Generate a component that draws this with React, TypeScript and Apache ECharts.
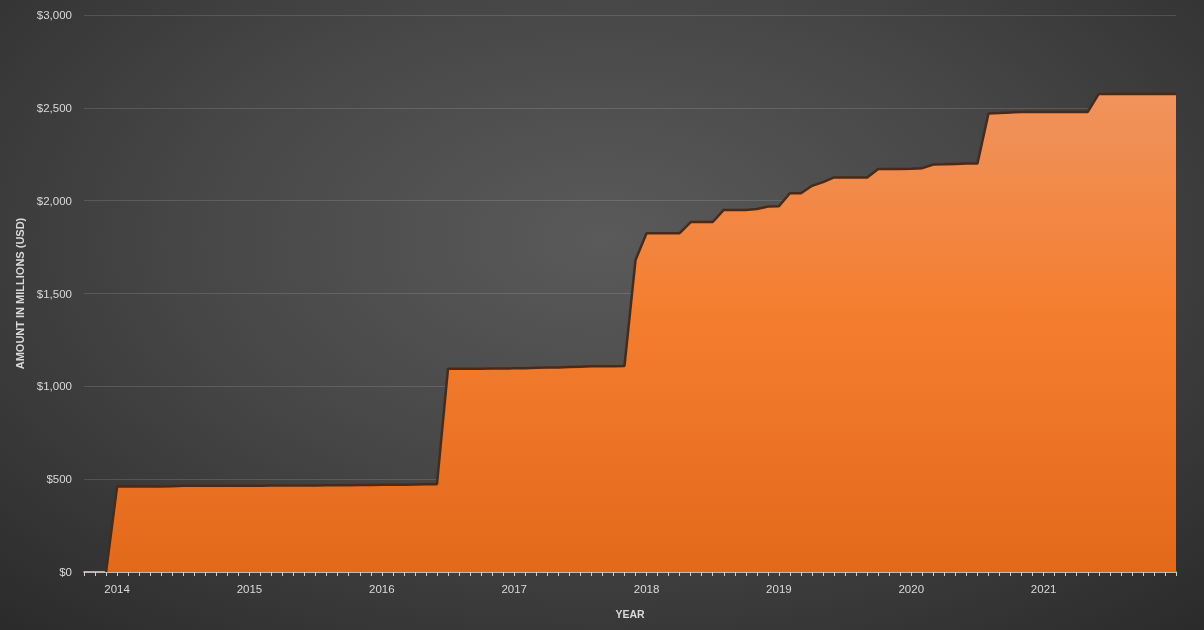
import React, { useEffect, useRef } from "react";
import * as echarts from "echarts";

// Monthly categories from Oct 2013 to Jan 2022
const startYear = 2013;
const startMonth = 10;
const monthCount = 100;
const categories: string[] = [];
for (let i = 0; i < monthCount; i++) {
  const m0 = startMonth - 1 + i;
  const y = startYear + Math.floor(m0 / 12);
  const m = (m0 % 12) + 1;
  categories.push(`${y}-${m < 10 ? "0" + m : m}`);
}

// Year labels shown on the axis
const yearLabels = ["2014", "2015", "2016", "2017", "2018", "2019", "2020", "2021"];

// Cumulative amount in millions USD, one value per month
const values2013 = [null, null, 0];
const values2014 = [460, 460, 460, 460, 460, 462, 465, 465, 465, 465, 465, 465];
const values2015 = [465, 465, 466, 466, 466, 466, 466, 467, 467, 467, 468, 468];
const values2016 = [470, 470, 470, 471, 472, 473, 1095, 1095, 1095, 1095, 1096, 1096];
const values2017 = [1097, 1098, 1100, 1102, 1102, 1104, 1106, 1108, 1108, 1108, 1110, 1680];
const values2018 = [1825, 1825, 1825, 1825, 1885, 1885, 1885, 1950, 1950, 1950, 1955, 1968];
const values2019 = [1970, 2040, 2040, 2080, 2100, 2125, 2125, 2125, 2125, 2170, 2170, 2170];
const values2020 = [2172, 2175, 2195, 2196, 2198, 2200, 2200, 2470, 2472, 2475, 2478, 2478];
const values2021 = [2478, 2478, 2478, 2478, 2478, 2575, 2575, 2575, 2575, 2575, 2575, 2575];
const values2022 = [2575];

const seriesValues = [
  ...values2013,
  ...values2014,
  ...values2015,
  ...values2016,
  ...values2017,
  ...values2018,
  ...values2019,
  ...values2020,
  ...values2021,
  ...values2022,
];

const yTicks = [0, 500, 1000, 1500, 2000, 2500, 3000];

export default function App() {
  const ref = useRef<HTMLDivElement>(null);

  useEffect(() => {
    if (!ref.current) return;
    const chart = echarts.init(ref.current, null, { renderer: "svg" });
    const labelColor = "#d9d9d9";
    const font = "'Liberation Sans', Arial, sans-serif";
    chart.setOption({
      animation: false,
      backgroundColor: "transparent",
      grid: { left: 84, right: 28, top: 15, bottom: 58, containLabel: false },
      xAxis: {
        type: "category",
        data: categories,
        boundaryGap: false,
        name: "YEAR",
        nameLocation: "middle",
        nameGap: 36,
        nameTextStyle: { color: labelColor, fontSize: 10.5, fontWeight: "bold", fontFamily: font },
        axisLine: { show: true, lineStyle: { color: "#e6dccf", width: 1.5 } },
        axisTick: { show: true, interval: 0, length: 4, lineStyle: { color: "#d0d0d0" } },
        axisLabel: {
          interval: (idx: number, val: string) =>
            val.endsWith("-01") && yearLabels.indexOf(val.slice(0, 4)) >= 0,
          formatter: (val: string) => val.slice(0, 4),
          color: labelColor,
          fontSize: 11.5,
          fontFamily: font,
          margin: 11,
        },
        splitLine: { show: false },
      },
      yAxis: {
        type: "value",
        min: yTicks[0],
        max: yTicks[yTicks.length - 1],
        interval: 500,
        name: "AMOUNT IN MILLIONS (USD)",
        nameLocation: "middle",
        nameGap: 49,
        nameRotate: 90,
        nameTextStyle: { color: labelColor, fontSize: 11, fontWeight: "bold", fontFamily: font },
        axisLine: { show: false },
        axisTick: { show: false },
        axisLabel: {
          color: labelColor,
          fontSize: 11.5,
          fontFamily: font,
          margin: 12,
          formatter: (v: number) => "$" + v.toLocaleString("en-US"),
        },
        splitLine: { show: true, lineStyle: { color: "rgba(255,255,255,0.13)", width: 1 } },
      },
      series: [
        {
          type: "line",
          data: seriesValues,
          symbol: "none",
          connectNulls: false,
          lineStyle: { color: "#4a2a17", width: 2.5 },
          areaStyle: {
            opacity: 1,
            color: new echarts.graphic.LinearGradient(0, 0, 0, 1, [
              { offset: 0, color: "#f0935e" },
              { offset: 0.45, color: "#f47e30" },
              { offset: 1, color: "#e3691a" },
            ]),
          },
        },
      ],
    });
    return () => chart.dispose();
  }, []);

  return (
    <div
      style={{
        position: "fixed",
        left: 0,
        top: 0,
        width: 1204,
        height: 630,
        background:
          "radial-gradient(ellipse 75% 85% at 50% 38%, #5a5a5a 0%, #474747 45%, #2a2a2a 100%)",
      }}
    >
      <div ref={ref} style={{ width: 1204, height: 630 }} />
    </div>
  );
}
